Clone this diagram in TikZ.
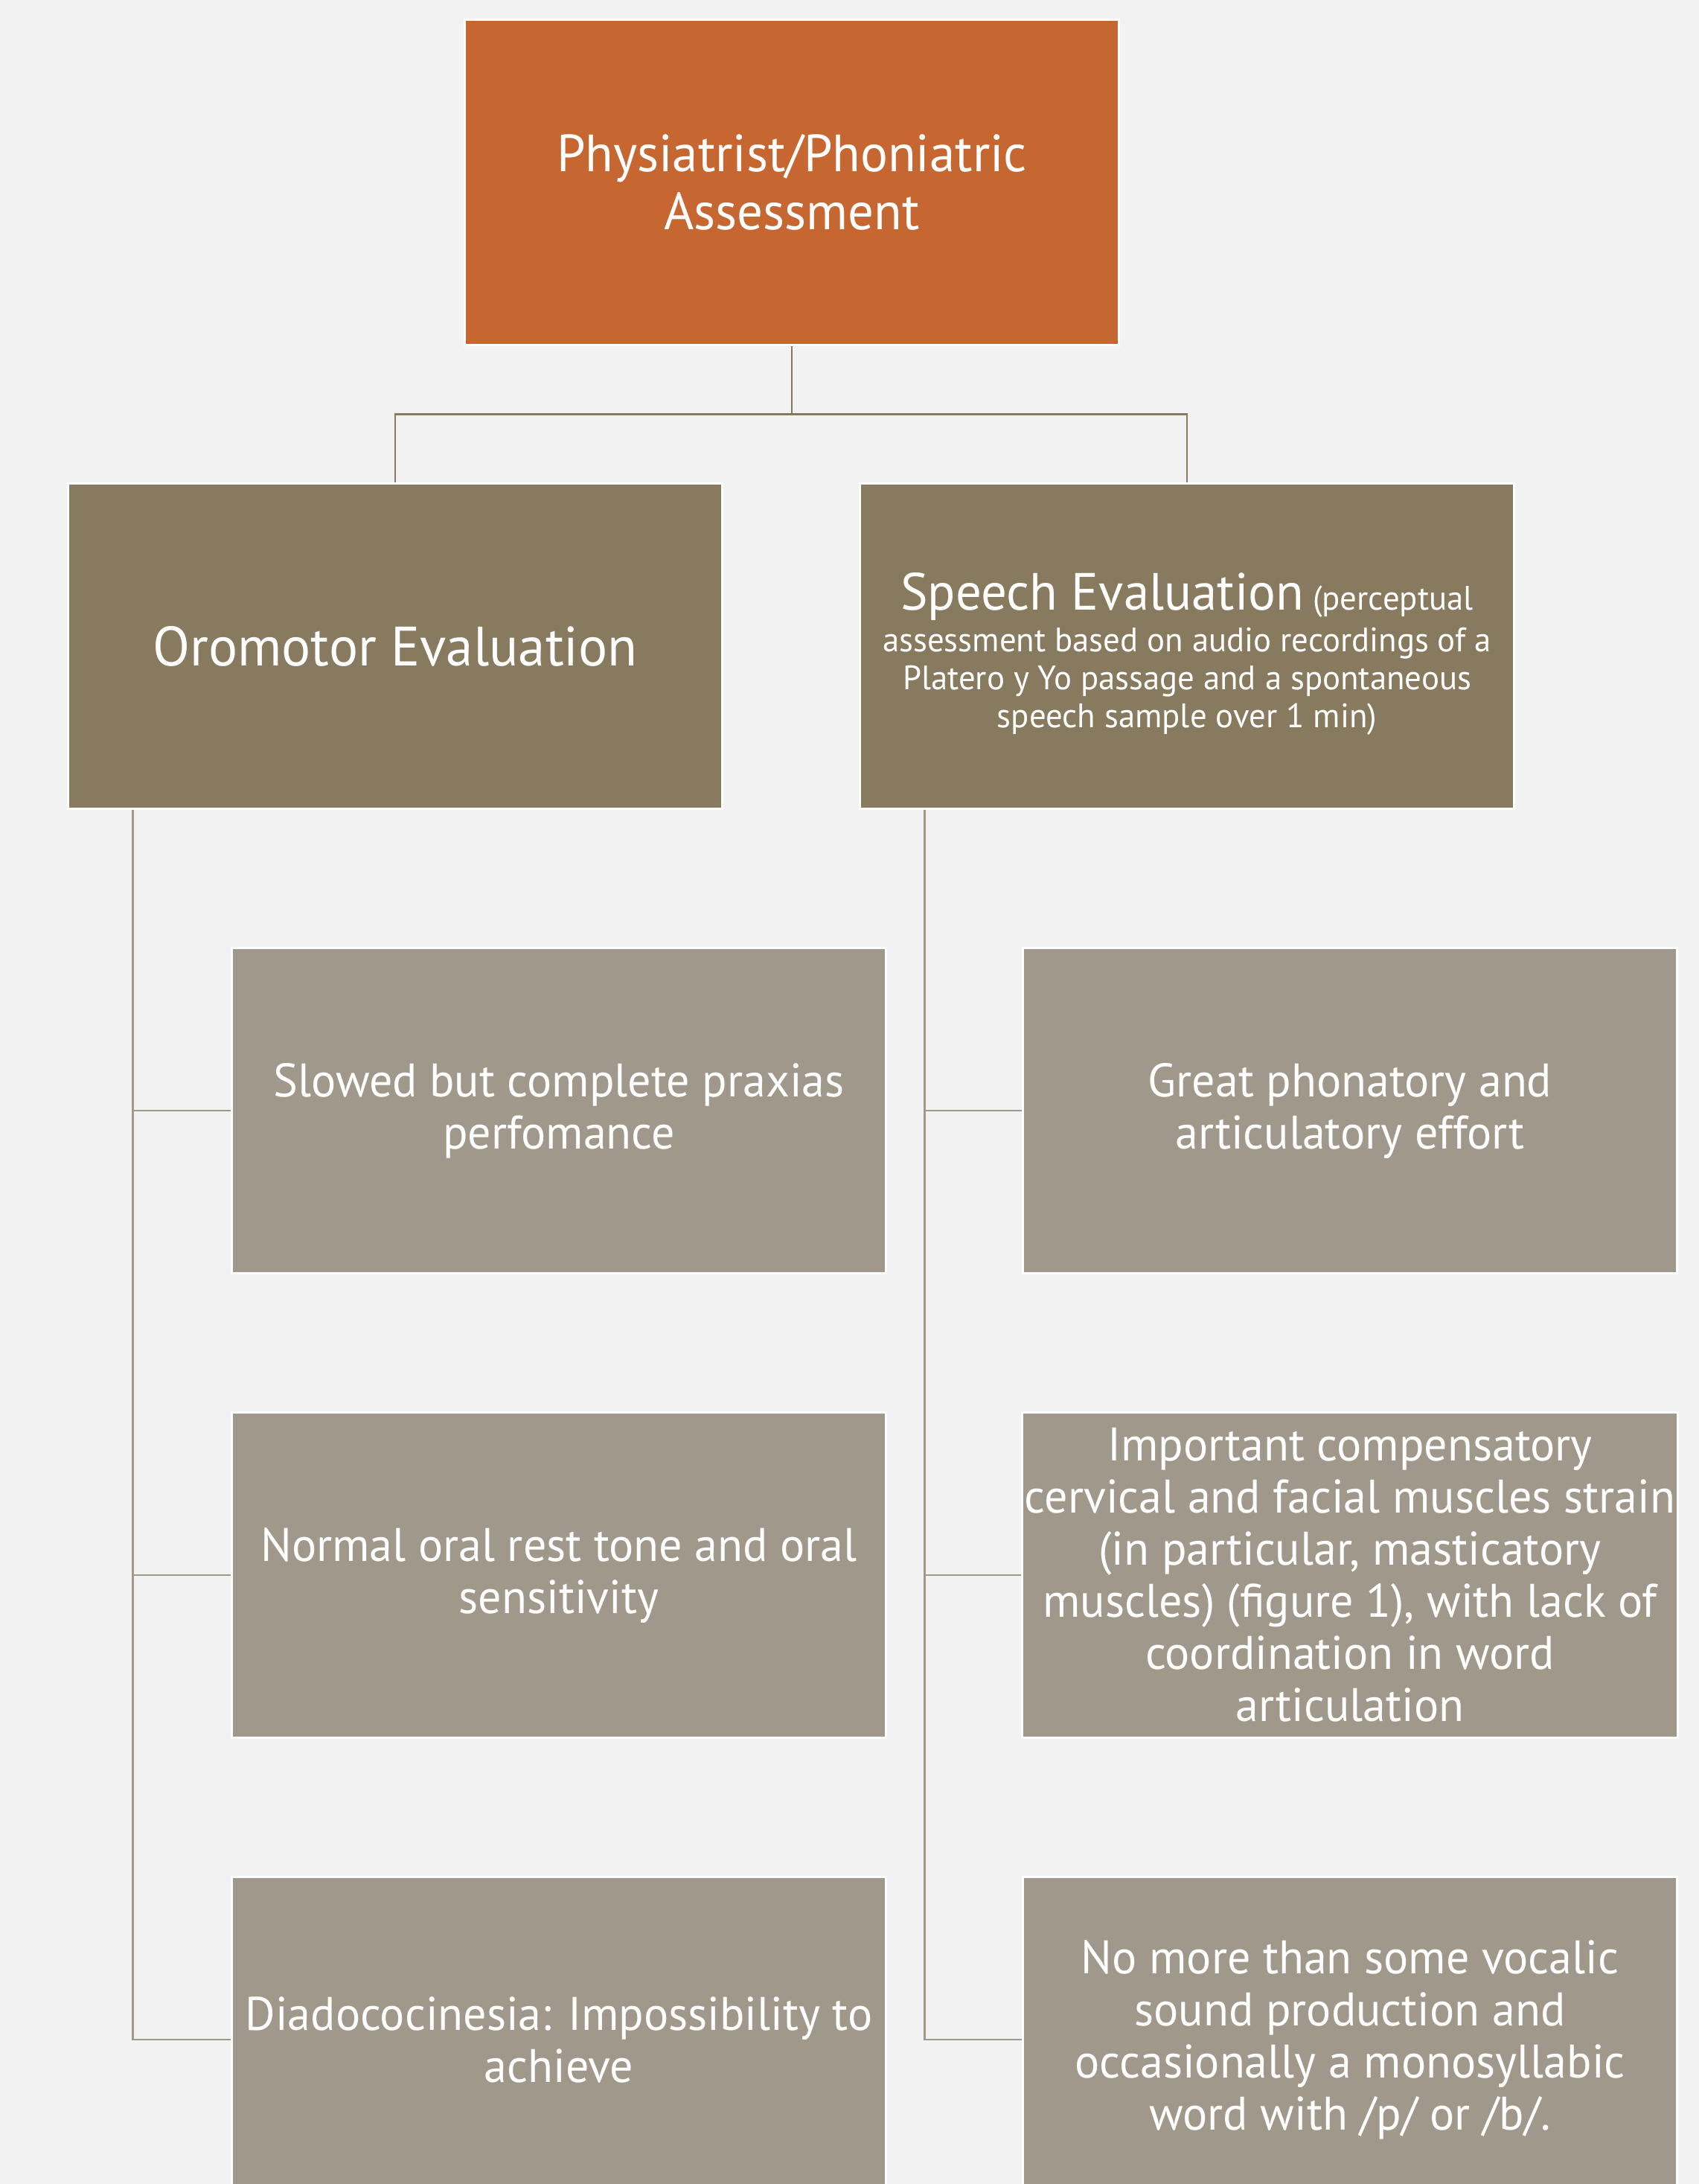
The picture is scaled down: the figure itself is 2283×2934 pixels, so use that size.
\documentclass[tikz,border=0pt]{standalone}
\usepackage{fontspec}
\setmainfont{PT Sans}[FakeStretch=0.98]
\usetikzlibrary{calc,positioning}
\definecolor{bgpaper}{HTML}{F2F2F2}
\definecolor{rootorange}{HTML}{C66631}
\definecolor{parentbrown}{HTML}{877A5E}
\definecolor{childtaupe}{HTML}{A0988A}
\tikzset{
  card/.style = {
    draw=white, line width=0.8pt, text=white, align=center,
    minimum width=8.78cm, minimum height=4.37cm, inner sep=1pt
  },
  rootcard/.style = {card, fill=rootorange, font=\fontsize{20}{22.4}\selectfont},
  parentcard/.style = {card, fill=parentbrown, font=\fontsize{21.2}{25}\selectfont},
  childcard/.style = {card, fill=childtaupe, font=\fontsize{18}{19.9}\selectfont},
  link/.style = {draw=parentbrown, line width=0.7pt},
  branch/.style = {draw=childtaupe, line width=0.7pt},
}

\begin{document}
\begin{tikzpicture}[x=0.01cm, y=-0.01cm]
  \useasboundingbox (0,0) rectangle (2283,2934);
  \clip (0,0) rectangle (2283,2934);
  \fill[bgpaper] (0,0) rectangle (2283,2934);

  % top level
  \node[rootcard] (root) at (1064,245) {Physiatrist/Phoniatric\\Assessment};

  % second level
  \node[parentcard] (oro) at (531,868) {Oromotor Evaluation};
  \node[parentcard, font=\fontsize{13}{14.4}\selectfont] (speech) at (1595,868)
    {\rule{0pt}{20pt}{\fontsize{20}{24}\selectfont Speech Evaluation} (perceptual\\[1.8pt]
     assessment based on audio recordings of a\\
     Platero y Yo passage and a spontaneous\\
     speech sample over 1 min)};

  % oromotor findings
  \node[childcard] (slowed)   at (751,1492) {Slowed but complete praxias\\perfomance};
  \node[childcard] (resttone) at (751,2116) {Normal oral rest tone and oral\\sensitivity};
  \node[childcard] (diado)    at (751,2740) {Diadococinesia: Impossibility to\\achieve};

  % speech findings
  \node[childcard] (effort) at (1814,1492) {Great phonatory and\\articulatory effort};
  \node[childcard] (strain) at (1814,2116)
    {Important compensatory\\cervical and facial muscles strain\\(in particular, masticatory\\muscles) (figure 1), with lack of\\coordination in word\\articulation};
  \node[childcard] (vocalic) at (1814,2740)
    {No more than some vocalic\\sound production and\\occasionally a monosyllabic\\word with /p/ or /b/.};

  % connectors
  \coordinate (split) at ($(root.south)!0.5!(root.south |- oro.north)$);
  \draw[link] (root.south) -- (split) -| (oro.north);
  \draw[link] (split) -| (speech.north);

  \coordinate (oro-trunk) at ([xshift=0.88cm]oro.south west);
  \coordinate (speech-trunk) at ([xshift=0.88cm]speech.south west);
  \foreach \c in {slowed, resttone, diado}
    \draw[branch] (oro-trunk) |- (\c.west);
  \foreach \c in {effort, strain, vocalic}
    \draw[branch] (speech-trunk) |- (\c.west);
\end{tikzpicture}
\end{document}
